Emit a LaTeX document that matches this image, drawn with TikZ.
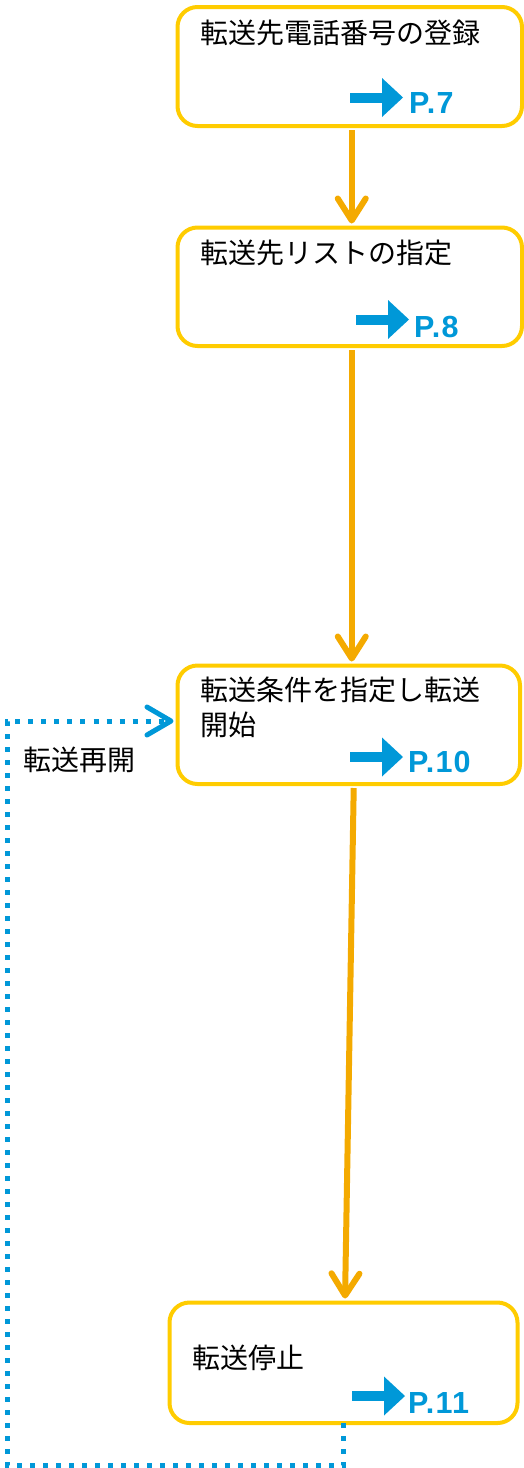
\documentclass[tikz,border=0pt]{standalone}
\usepackage{fontspec}
\newfontfamily\jp{Noto Sans CJK JP}
\newfontfamily\lat{Liberation Sans}[LetterSpace=4]
\usetikzlibrary{arrows.meta,calc}
\definecolor{boxyellow}{RGB}{255,204,0}
\definecolor{flow}{RGB}{244,170,0}
\definecolor{pblue}{RGB}{0,152,216}
\tikzset{
  box/.style={draw=boxyellow, line width=4pt, fill=white, rounded corners=20pt, anchor=north west, inner sep=0pt},
  jtext/.style={font={\jp\fontsize{28}{34}\selectfont}, text=black, anchor=base west, inner sep=0pt},
  plabel/.style={font={\lat\bfseries\fontsize{30.5}{34}\selectfont}, text=pblue, anchor=base west, inner sep=0pt},
  flowline/.style={draw=flow, line width=6pt, -{Straight Barb[length=22pt,width=28pt,round]}, shorten <=2pt, shorten >=2pt},
  dotline/.style={draw=pblue, line width=5pt, dash pattern=on 5pt off 8pt, -{Straight Barb[length=24pt,width=28pt,round]}},
  pgo/.pic={
    \fill[pblue] (-53pt,-5pt) rectangle (-19pt,5pt);
    \fill[pblue] (-21pt,-19.5pt) -- (0pt,0pt) -- (-21pt,19.5pt) -- cycle;
  }
}
\begin{document}
\begin{tikzpicture}[x=1pt,y=-1pt]
\useasboundingbox (0,0) rectangle (524,1468);
% boxes
\node[box, minimum width=344.5pt, minimum height=119pt] (b1) at (175.5,5) {};
\node[box, minimum width=344.5pt, minimum height=118.5pt] (b2) at (175.5,225.5) {};
\node[box, minimum width=342.5pt, minimum height=118.5pt] (b3) at (175.5,663.5) {};
\node[box, minimum width=348pt, minimum height=120.5pt] (b4) at (167.5,1300.5) {};
% texts
\node[jtext] (t1) at (200,43) {転送先電話番号の登録};
\node[jtext] (t2) at (200,263) {転送先リストの指定};
\node[jtext] (t3a) at (200,700) {転送条件を指定し転送};
\node[jtext] (t3b) at (200,735) {開始};
\node[jtext] (t4) at (192,1368) {転送停止};
\node[jtext] (tr) at (23,770) {転送再開};
% page references
\pic at (403,97.5) {pgo};
\node[plabel] (p1) at (409,113) {P.7};
\pic at (409,319.5) {pgo};
\node[plabel] (p2) at (414,337) {P.8};
\pic at (403,757) {pgo};
\node[plabel] (p3) at (408,772) {P.10};
\pic at (405,1396) {pgo};
\node[plabel] (p4) at (408,1413) {P.11};
% flow connectors
\draw[flowline] ([xshift=2pt]b1.south) -- ([xshift=2pt]b2.north);
\draw[flowline] ([xshift=2pt]b2.south) -- ([xshift=2pt]b2.south |- b3.north);
\draw[flowline] ([xshift=5pt]b3.south) -- ([xshift=1.5pt]b4.north);
% return loop
\coordinate (c1) at (7,1465);
\coordinate (c2) at (7,721);
\draw[dotline] ([yshift=2pt]b4.south) |- (c1) -- (c2) -- ([xshift=-2pt]b3.west |- c2);
\end{tikzpicture}
\end{document}
